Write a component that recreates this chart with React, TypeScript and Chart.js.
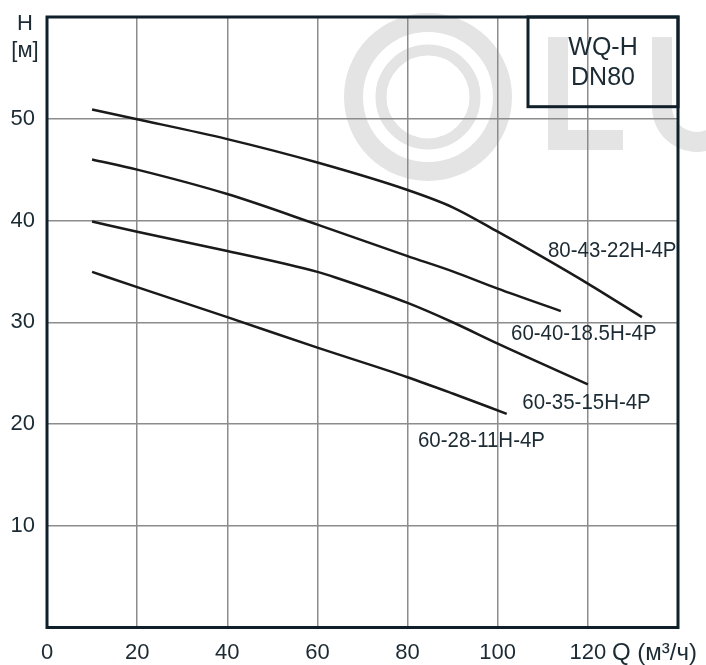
import React, { useEffect, useRef } from "react";
import { Chart, registerables } from "chart.js";

Chart.register(...registerables);

// ---- data ----
const xTicks = [0, 20, 40, 60, 80, 100, 120, 140];
const yTicks = [0, 10, 20, 30, 40, 50, 60];

const q1 = [10, 20, 40, 60, 80, 90, 100, 110, 120, 132];
const h1 = [50.9, 49.95, 48.0, 45.7, 43.0, 41.3, 38.9, 36.4, 33.8, 30.5];

const q2 = [10, 20, 40, 60, 80, 90, 100, 114];
const h2 = [46.0, 45.0, 42.6, 39.6, 36.5, 35.0, 33.3, 31.1];

const q3 = [10, 20, 40, 60, 64, 80, 90, 100, 120];
const h3 = [39.9, 38.9, 37.0, 34.95, 34.4, 31.9, 30.0, 27.9, 23.9];

const q4 = [10, 20, 40, 60, 80, 90, 102];
const h4 = [34.95, 33.45, 30.5, 27.5, 24.6, 23.0, 21.0];

const seriesNames = ["80-43-22H-4P", "60-40-18.5H-4P", "60-35-15H-4P", "60-28-11H-4P"];
// label anchors (data units)
const labelQ = [125.4, 119.1, 119.7, 96.4];
const labelH = [36.97, 28.85, 22.06, 18.3];

const boxTitle = ["WQ-H", "DN80"];
const yTitle = ["H", "[м]"];
const xTitle = "Q (м³/ч)";

const FONT = "'Liberation Sans', Arial, sans-serif";
const TEXT = "#1b2a33";
const FRAME = "#10202a";

export default function App() {
  const ref = useRef<HTMLCanvasElement | null>(null);

  useEffect(() => {
    if (!ref.current) return;
    const mk = (q: number[], h: number[]) => q.map((v, i) => ({ x: v, y: h[i] }));
    const all = [mk(q1, h1), mk(q2, h2), mk(q3, h3), mk(q4, h4)];

    const watermark = {
      id: "watermark",
      beforeDraw(chart: any) {
        const ctx = chart.ctx;
        ctx.save();
        ctx.strokeStyle = "#e4e4e4";
        ctx.fillStyle = "#e4e4e4";
        ctx.lineWidth = 19;
        ctx.beginPath();
        ctx.arc(428, 97, 74.5, 0, Math.PI * 2);
        ctx.stroke();
        ctx.lineWidth = 11;
        ctx.beginPath();
        ctx.arc(428, 97, 47, 0, Math.PI * 2);
        ctx.stroke();
        // L
        ctx.fillRect(548, 37, 20, 113);
        ctx.fillRect(548, 130, 75, 20);
        // U
        ctx.beginPath();
        ctx.moveTo(652, 37);
        ctx.lineTo(652, 107);
        ctx.arc(697, 107, 45, Math.PI, 0, true);
        ctx.lineTo(742, 37);
        ctx.lineTo(722, 37);
        ctx.lineTo(722, 107);
        ctx.arc(697, 107, 25, 0, Math.PI, false);
        ctx.lineTo(672, 37);
        ctx.closePath();
        ctx.fill();
        ctx.restore();
      },
    };

    const deco = {
      id: "deco",
      afterDraw(chart: any) {
        const ctx = chart.ctx;
        const a = chart.chartArea;
        const xs = chart.scales.x;
        const ys = chart.scales.y;
        ctx.save();
        // frame
        ctx.strokeStyle = FRAME;
        ctx.lineWidth = 3;
        ctx.strokeRect(a.left, a.top, a.right - a.left, a.bottom - a.top);
        // box
        ctx.strokeRect(528, a.top, a.right - 528, 106.7 - a.top);
        ctx.fillStyle = TEXT;
        ctx.textAlign = "center";
        ctx.textBaseline = "middle";
        ctx.font = `25px ${FONT}`;
        ctx.fillText(boxTitle[0], 603, 48);
        ctx.fillText(boxTitle[1], 603, 78);
        // y title
        ctx.font = `22px ${FONT}`;
        ctx.fillText(yTitle[0], 25, 24);
        ctx.fillText(yTitle[1], 25, 51);
        // x title
        ctx.textAlign = "left";
        ctx.font = `24px ${FONT}`;
        ctx.fillText(xTitle, 612, 653);
        // curve labels (slightly condensed)
        ctx.textAlign = "center";
        ctx.font = `22px ${FONT}`;
        seriesNames.forEach((n, i) => {
          ctx.save();
          ctx.translate(xs.getPixelForValue(labelQ[i]), ys.getPixelForValue(labelH[i]));
          ctx.scale(0.93, 1);
          ctx.fillText(n, 0, 0);
          ctx.restore();
        });
        ctx.restore();
      },
    };

    const chart = new Chart(ref.current, {
      type: "line",
      data: {
        datasets: all.map((d, i) => ({
          label: seriesNames[i],
          data: d,
          borderColor: "#1a1a1a",
          borderWidth: 2.5,
          pointRadius: 0,
          fill: false,
          cubicInterpolationMode: "monotone" as const,
        })),
      },
      options: {
        responsive: false,
        animation: false,
        layout: { padding: { left: 0, top: 17, right: 28, bottom: 0 } },
        plugins: { legend: { display: false }, tooltip: { enabled: false } },
        scales: {
          x: {
            type: "linear",
            min: xTicks[0],
            max: xTicks[xTicks.length - 1],
            afterBuildTicks: (s: any) => {
              s.ticks = xTicks.map((v) => ({ value: v }));
            },
            afterFit: (s: any) => {
              s.height = 37.5;
              s.paddingLeft = 0;
              s.paddingRight = 0;
              s.paddingTop = 0;
              s.paddingBottom = 0;
            },
            grid: { color: "#8c8c8c", lineWidth: 1.5, drawTicks: false },
            border: { display: false },
            ticks: {
              padding: 12,
              maxRotation: 0,
              autoSkip: false,
              color: TEXT,
              font: { family: FONT, size: 22 },
              callback: (v: any) => (v === 140 ? "" : String(v)),
            },
          },
          y: {
            type: "linear",
            min: yTicks[0],
            max: yTicks[yTicks.length - 1],
            afterBuildTicks: (s: any) => {
              s.ticks = yTicks.map((v) => ({ value: v }));
            },
            afterFit: (s: any) => {
              s.width = 47;
              s.paddingLeft = 0;
              s.paddingRight = 0;
              s.paddingTop = 0;
              s.paddingBottom = 0;
            },
            grid: { color: "#8c8c8c", lineWidth: 1.5, drawTicks: false },
            border: { display: false },
            ticks: {
              padding: 12,
              autoSkip: false,
              color: TEXT,
              font: { family: FONT, size: 22 },
              callback: (v: any) => (v === 0 || v === 60 ? "" : String(v)),
            },
          },
        },
      },
      plugins: [watermark, deco],
    });
    return () => chart.destroy();
  }, []);

  return (
    <div style={{ position: "absolute", left: 0, top: 0, width: 706, height: 665, background: "#fff" }}>
      <canvas ref={ref} width={706} height={665} style={{ display: "block" }} />
    </div>
  );
}
